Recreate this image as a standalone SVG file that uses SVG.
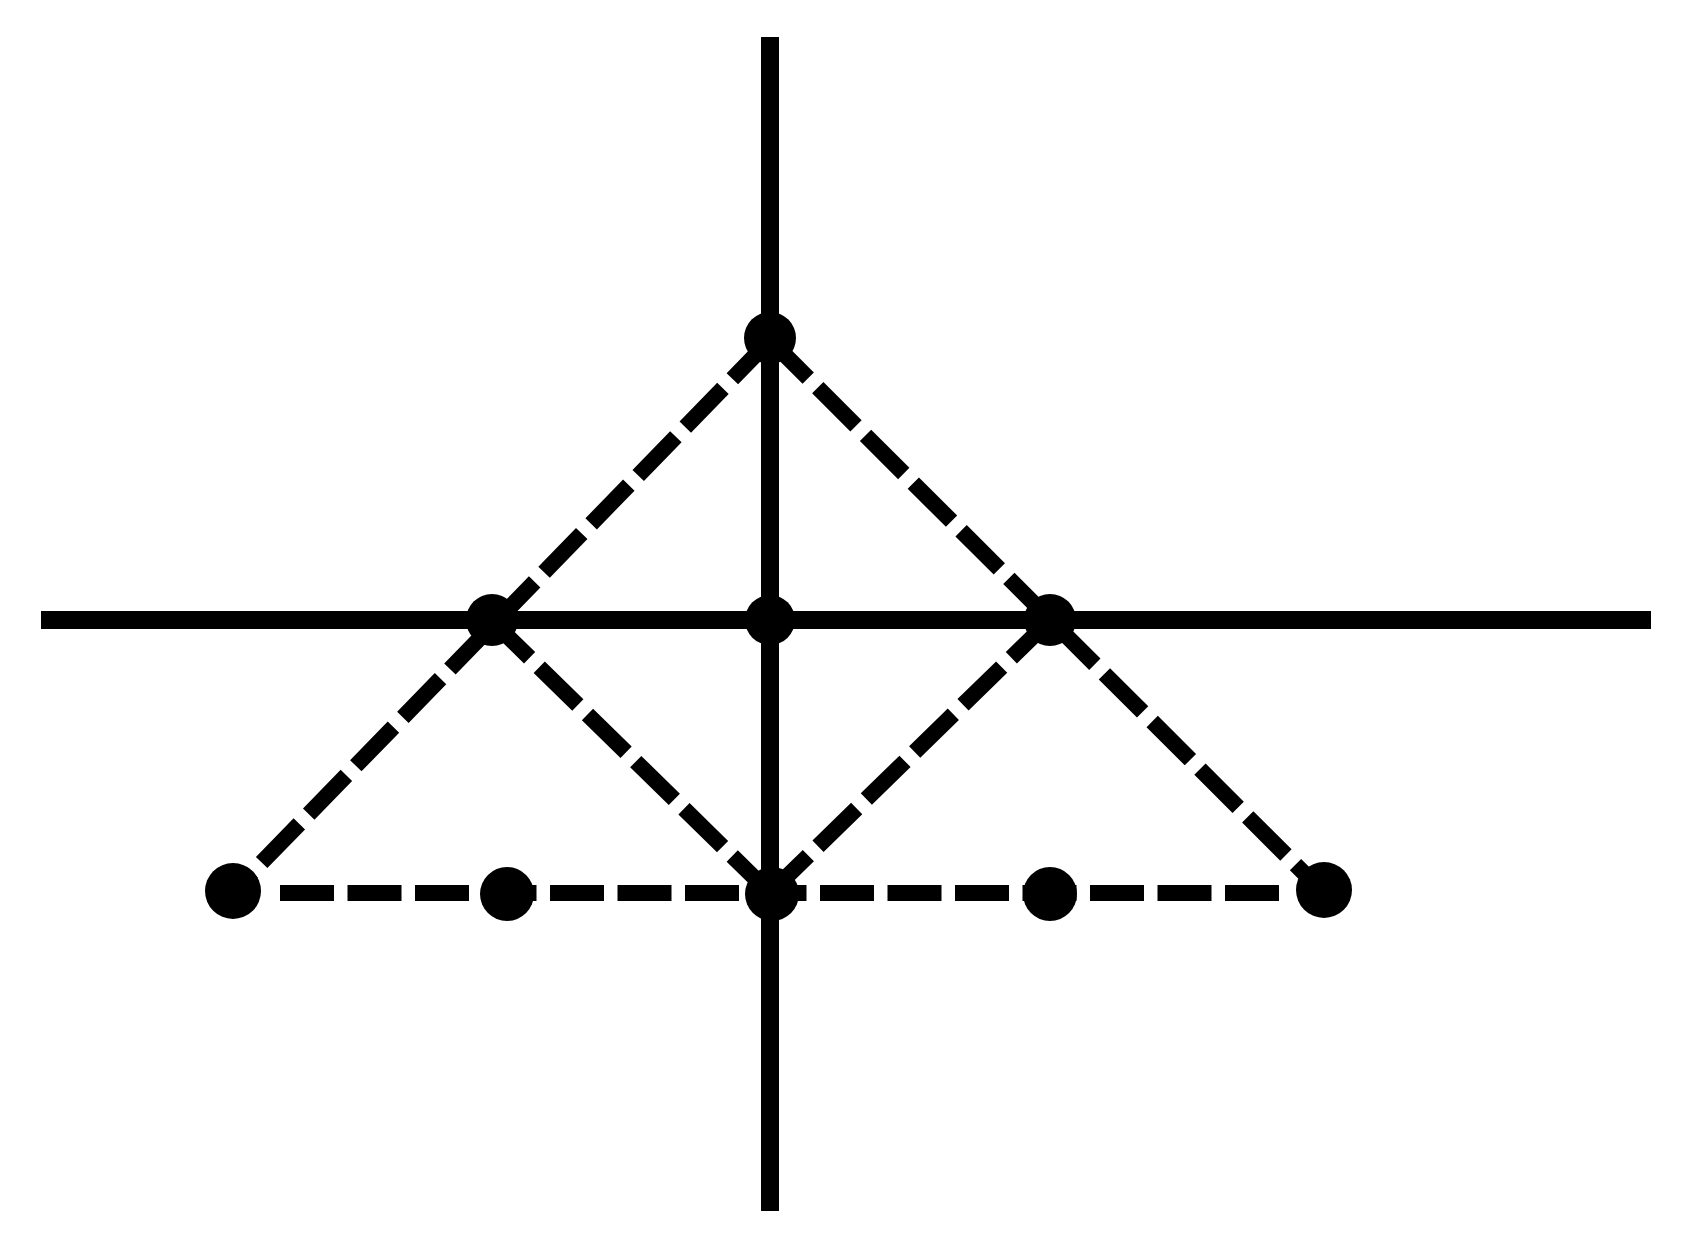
<svg xmlns="http://www.w3.org/2000/svg" width="1691" height="1249" viewBox="0 0 1691 1249">
<style>
.solid{stroke:#000;stroke-width:18;fill:none}
.dash{stroke:#000;stroke-width:16;fill:none;stroke-dasharray:54 13.5}
.dot{fill:#000}
</style>
<rect width="1691" height="1249" fill="#fff"/>
<g id="axes">
<line class="solid" x1="770" y1="37" x2="770" y2="1211"/>
<line class="solid" x1="41" y1="620" x2="1651" y2="620"/>
</g>
<g id="connectors">
<line class="dash" x1="280" y1="893" x2="1280" y2="893"/>
<line class="dash" x1="770" y1="340" x2="232" y2="893"/>
<line class="dash" x1="770" y1="340" x2="1324" y2="893"/>
<line class="dash" x1="491" y1="620" x2="770" y2="893"/>
<line class="dash" x1="1050" y1="620" x2="770" y2="893"/>
</g>
<g id="n-top"><circle class="dot" cx="770" cy="338" r="26"/></g>
<g id="n-midleft"><circle class="dot" cx="492" cy="620" r="26"/></g>
<g id="n-center"><circle class="dot" cx="770" cy="620" r="25"/></g>
<g id="n-midright"><circle class="dot" cx="1050" cy="620" r="26"/></g>
<g id="n-b1"><circle class="dot" cx="233" cy="891" r="28"/></g>
<g id="n-b2"><circle class="dot" cx="507" cy="894" r="27"/></g>
<g id="n-b3"><circle class="dot" cx="772" cy="894" r="27"/></g>
<g id="n-b4"><circle class="dot" cx="1050" cy="894" r="27"/></g>
<g id="n-b5"><circle class="dot" cx="1324" cy="890" r="28"/></g>
</svg>
